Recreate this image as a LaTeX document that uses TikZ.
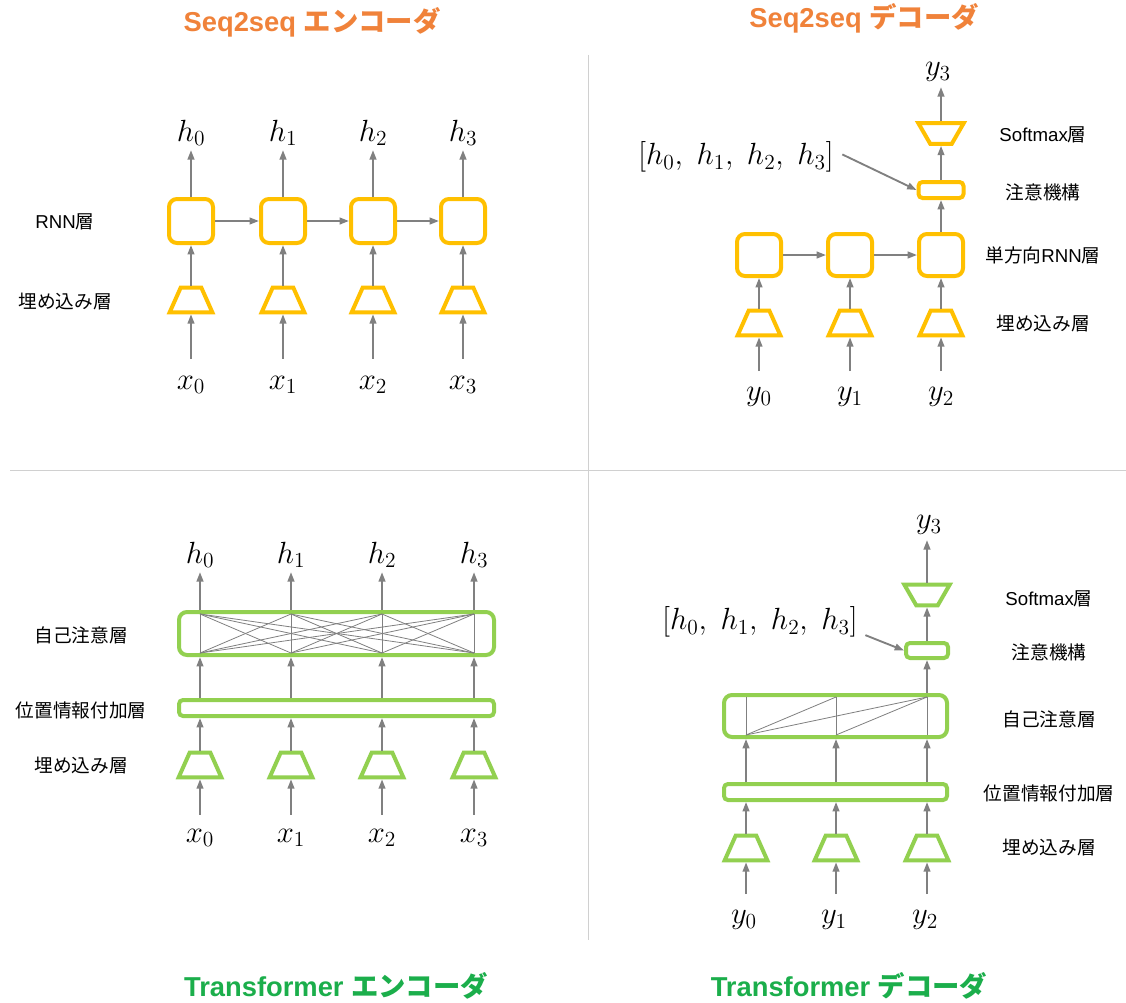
\RequirePackage{fix-cm}
\documentclass[tikz,border=0pt]{standalone}
\usepackage[no-math]{fontspec}
\setmainfont{Liberation Sans}
\newfontfamily\jp{Noto Sans CJK JP}
\usetikzlibrary{arrows.meta,shapes.geometric}
\definecolor{ttlor}{HTML}{F0823A}
\definecolor{ttlgr}{HTML}{1BAE4B}
\definecolor{gold}{HTML}{FFC000}
\definecolor{lgreen}{HTML}{92D050}
\definecolor{arrgray}{HTML}{808080}
\definecolor{divgray}{HTML}{D0D0D0}
\tikzset{
  arr/.style={draw=arrgray, line width=1.4pt, -{Triangle[length=7pt,width=5pt]}},
  att/.style={draw=arrgray, line width=0.6pt},
  divider/.style={draw=divgray, line width=0.75pt},
  rnnbox/.style={rectangle, draw=gold, line width=3pt, rounded corners=6pt, minimum width=33pt, minimum height=33pt, inner sep=0pt},
  flatbox/.style={rectangle, line width=3pt, rounded corners=3pt, inner sep=0pt},
  bigbox/.style={rectangle, draw=lgreen, line width=3pt, rounded corners=6pt, inner sep=0pt},
  emb/.style={trapezium, trapezium stretches=true, trapezium angle=62, minimum width=32pt, minimum height=18.5pt, inner sep=1pt, line width=3pt},
  smx/.style={trapezium, trapezium stretches=true, trapezium angle=61, shape border rotate=180, minimum width=34pt, minimum height=15.5pt, inner sep=1pt, line width=3pt},
  mlab/.style={inner sep=1pt, font=\fontsize{23}{27}\selectfont},
  lab/.style={inner sep=0pt, font=\fontsize{14}{16}\selectfont},
  ttl/.style={inner sep=0pt, anchor=base, font=\fontsize{20.5}{24}\selectfont\bfseries}
}
\begin{document}
\begin{tikzpicture}[x=0.75pt,y=-0.75pt]
\useasboundingbox (0,0) rectangle (1126,1002);
\fill[white] (0,0) rectangle (1126,1002);
% dividers
\draw[divider] (588,55) -- (588,940);
\draw[divider] (10,470) -- (1126,470);
% titles
\node[ttl, text=ttlor] (t1) at (312,32) {Seq2seq {\jp エンコーダ}};
\node[ttl, text=ttlor] (t2) at (864,28) {Seq2seq {\jp デコーダ}};
\node[ttl, text=ttlgr] (t3) at (336,996) {Transformer {\jp エンコーダ}};
\node[ttl, text=ttlgr] (t4) at (849,996) {Transformer {\jp デコーダ}};

% ===== Top-left: Seq2seq encoder =====
\node[lab] (aL1) at (65,222) {RNN{\jp 層}};
\node[lab] (aL2) at (65,302) {\jp 埋め込み層};
\foreach \i/\x in {0/191,1/283,2/373,3/463}{
  \node[rnnbox] (ar\i) at (\x,221) {};
  \node[emb, draw=gold] (ae\i) at (\x,300) {};
  \node[mlab] (ax\i) at (\x,385) {$x_\i$};
  \node[mlab] (ah\i) at (\x,133) {$h_\i$};
  \draw[arr, shorten <=12pt] (ax\i.north) -- (ae\i.south);
  \draw[arr] (ae\i.north) -- (ar\i.south);
  \draw[arr, shorten >=2pt] (ar\i.north) -- (ah\i.south);
}
\draw[arr] (ar0) -- (ar1);
\draw[arr] (ar1) -- (ar2);
\draw[arr] (ar2) -- (ar3);

% ===== Top-right: Seq2seq decoder =====
\node[lab] (bL1) at (1043,135) {Softmax{\jp 層}};
\node[lab] (bL2) at (1043,192) {\jp 注意機構};
\node[lab] (bL3) at (1043,255) {{\jp 単方向}RNN{\jp 層}};
\node[lab] (bL4) at (1043,324) {\jp 埋め込み層};
\foreach \i/\x in {0/759,1/850,2/941}{
  \node[rnnbox, minimum height=31.5pt] (br\i) at (\x,255) {};
  \node[emb, draw=gold] (be\i) at (\x,323) {};
  \node[mlab] (by\i) at (\x,397) {$y_\i$};
  \draw[arr, shorten <=11pt] (by\i.north) -- (be\i.south);
  \draw[arr] (be\i.north) -- (br\i.south);
}
\draw[arr] (br0) -- (br1);
\draw[arr] (br1) -- (br2);
\node[flatbox, draw=gold, minimum width=33.75pt, minimum height=12pt] (batt) at (941,190) {};
\node[smx, draw=gold] (bsm) at (941,133.5) {};
\node[mlab] (by3) at (938,72) {$y_3$};
\node[mlab] (bhl) at (736,157) {$[h_0,\ h_1,\ h_2,\ h_3]$};
\draw[arr] (br2.north) -- (batt.south);
\draw[arr] (batt) -- (bsm);
\draw[arr, shorten >=3pt] (bsm) -- (by3.south -| bsm);
\draw[arr, shorten <=6pt] ([yshift=4.5pt]bhl.east) -- (batt.west);

% ===== Bottom-left: Transformer encoder =====
\node[lab] (cL1) at (81,635) {\jp 自己注意層};
\node[lab] (cL2) at (81,710) {\jp 位置情報付加層};
\node[lab] (cL3) at (81,766) {\jp 埋め込み層};
\node[bigbox, minimum width=236.25pt, minimum height=32.25pt] (csa) at (336.5,633.5) {};
\node[flatbox, draw=lgreen, minimum width=236.25pt, minimum height=12pt] (cpe) at (336.5,708) {};
\foreach \i/\x in {0/200,1/291,2/382,3/474}{
  \node[emb, draw=lgreen] (ce\i) at (\x,765) {};
  \node[mlab] (cx\i) at (\x,838) {$x_\i$};
  \node[mlab] (ch\i) at (\x,555) {$h_\i$};
  \draw[arr, shorten <=9.5pt] (cx\i.north) -- (ce\i.south);
  \draw[arr] (ce\i.north) -- (cpe.south -| ce\i);
  \draw[arr] (cpe.north -| ce\i) -- (csa.south -| ce\i);
  \draw[arr, shorten >=2pt] (csa.north -| ce\i) -- (ch\i.south);
  \path (csa.north -| ce\i) ++(0,4) coordinate (ct\i);
  \path (csa.south -| ce\i) ++(0,-4) coordinate (cb\i);
}
\foreach \i in {0,1,2,3}{
  \foreach \j in {0,1,2,3}{
    \draw[att] (ct\i) -- (cb\j);
  }
}

% ===== Bottom-right: Transformer decoder =====
\node[lab] (dL1) at (1049,599) {Softmax{\jp 層}};
\node[lab] (dL2) at (1049,652) {\jp 注意機構};
\node[lab] (dL3) at (1049,719) {\jp 自己注意層};
\node[lab] (dL4) at (1049,793) {\jp 位置情報付加層};
\node[lab] (dL5) at (1049,848) {\jp 埋め込み層};
\node[bigbox, minimum width=167.25pt, minimum height=31.5pt] (dsa) at (835.5,716) {};
\node[flatbox, draw=lgreen, minimum width=167.25pt, minimum height=12pt] (dpe) at (835.5,792) {};
\foreach \i/\x in {0/746,1/836,2/927}{
  \node[emb, draw=lgreen] (de\i) at (\x,848) {};
  \node[mlab] (dy\i) at ({\x-2},920) {$y_\i$};
  \draw[arr, shorten <=11pt] (dy\i.north -| de\i) -- (de\i.south);
  \draw[arr] (de\i.north) -- (dpe.south -| de\i);
  \draw[arr] (dpe.north -| de\i) -- (dsa.south -| de\i);
  \path (dsa.north -| de\i) ++(0,4) coordinate (dt\i);
  \path (dsa.south -| de\i) ++(0,-4) coordinate (db\i);
  \draw[att] (dt\i) -- (db\i);
}
\draw[att] (db0) -- (dt1);
\draw[att] (db0) -- (dt2);
\draw[att] (db1) -- (dt2);
\node[flatbox, draw=lgreen, minimum width=31.5pt, minimum height=11.25pt] (datt) at (927,650.5) {};
\node[smx, draw=lgreen] (dsm) at (927,595) {};
\node[mlab] (dy3) at (929,525) {$y_3$};
\node[mlab] (dhl) at (760,622) {$[h_0,\ h_1,\ h_2,\ h_3]$};
\draw[arr] (dsa.north -| de2) -- (datt.south);
\draw[arr] (datt) -- (dsm);
\draw[arr, shorten >=3pt] (dsm) -- (dy3.south -| dsm);
\draw[arr, shorten <=5pt] ([yshift=-8pt]dhl.east) -- (datt.west);
\end{tikzpicture}
\end{document}
